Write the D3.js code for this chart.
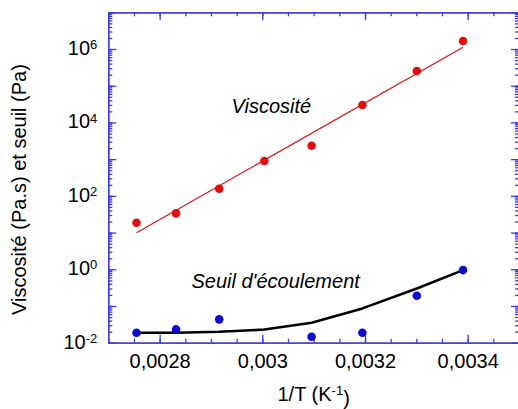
<!DOCTYPE html>
<html>
<head>
<meta charset="utf-8">
<script src="https://cdn.jsdelivr.net/npm/d3@7"></script>
<style>
  body { margin: 0; background: #fff; }
  svg { display: block; font-family: "Liberation Sans", Arial, sans-serif; }
</style>
</head>
<body>
<svg width="518" height="409"></svg>
<script>
// 1/T values (K^-1)
const invT = [0.002755, 0.002832, 0.002916, 0.003004, 0.003096, 0.003195, 0.003301, 0.003391];
// viscosity (Pa.s), red points
const viscosite = [18.5, 33.4, 156, 887, 2320, 29800, 252000, 1650000];
// linear fit in log space (two ends)
const viscositeFitX = [0.002755, 0.003391];
const viscositeFit = [9.9, 1110000];
// yield stress (Pa), blue points (none measured at 0.0030)
const seuil = [0.0186, 0.0230, 0.0432, null, 0.0145, 0.0186, 0.190, 0.951];
// smoothed curve through yield stress
const seuilFit = [0.0186, 0.0186, 0.0198, 0.0228, 0.0348, 0.086, 0.30, 0.95];

const xMajorTicks = [0.0028, 0.003, 0.0032, 0.0034];
const yMajorTicks = [1e-2, 1e-1, 1, 1e1, 1e2, 1e3, 1e4, 1e5, 1e6, 1e7];
const yLabelTicks = [1e-2, 1, 1e2, 1e4, 1e6];

const axisColor = "#3b3be2";
const svg = d3.select("svg");

const mLeft = 108.3, mRight = 519, mTop = 12.3, mBottom = 342.7;

const x = d3.scaleLinear().domain([0.0027, 0.0035]).range([mLeft, mRight]);
const y = d3.scaleLog().domain([1e-2, 1e7]).range([mBottom, mTop]);

const fmtX = (d) => d3.format("~g")(d).replace(".", ",");

function styleAxis(g) {
  g.selectAll("path, line").attr("stroke", axisColor).attr("stroke-width", 1.3);
  g.selectAll("text").attr("fill", "#000").style("font-size", "20px")
    .style("font-family", '"Liberation Sans", Arial, sans-serif');
}

// minor ticks
const xMinor = x.ticks(16);
const yMinor = y.ticks();

// bottom
svg.append("g").attr("transform", `translate(0,${mBottom})`)
  .call(d3.axisBottom(x).tickValues(xMinor).tickSize(-4).tickSizeOuter(0).tickFormat(""))
  .call(styleAxis);
svg.append("g").attr("transform", `translate(0,${mBottom})`)
  .call(d3.axisBottom(x).tickValues(xMajorTicks).tickSize(-8).tickSizeOuter(0)
    .tickPadding(11).tickFormat(fmtX))
  .call(styleAxis);

// top
svg.append("g").attr("transform", `translate(0,${mTop})`)
  .call(d3.axisTop(x).tickValues(xMinor).tickSize(-4).tickSizeOuter(0).tickFormat(""))
  .call(styleAxis);
svg.append("g").attr("transform", `translate(0,${mTop})`)
  .call(d3.axisTop(x).tickValues(xMajorTicks).tickSize(-8).tickSizeOuter(0).tickFormat(""))
  .call(styleAxis);

// left
svg.append("g").attr("transform", `translate(${mLeft},0)`)
  .call(d3.axisLeft(y).tickValues(yMinor).tickSize(-4).tickSizeOuter(0).tickFormat(""))
  .call(styleAxis);
svg.append("g").attr("transform", `translate(${mLeft},0)`)
  .call(d3.axisLeft(y).tickValues(yMajorTicks).tickSize(-8).tickSizeOuter(0).tickFormat(""))
  .call(styleAxis);

// right
svg.append("g").attr("transform", `translate(${mRight},0)`)
  .call(d3.axisRight(y).tickValues(yMinor).tickSize(-4).tickSizeOuter(0).tickFormat(""))
  .call(styleAxis);
svg.append("g").attr("transform", `translate(${mRight},0)`)
  .call(d3.axisRight(y).tickValues(yMajorTicks).tickSize(-8).tickSizeOuter(0).tickFormat(""))
  .call(styleAxis);

// y tick labels 10^n
const yLab = svg.append("g").selectAll("text").data(yLabelTicks).enter().append("text")
  .attr("x", mLeft - 11)
  .attr("y", (d) => y(d))
  .attr("dy", "0.3em")
  .attr("text-anchor", "end")
  .style("font-size", "20px");
yLab.append("tspan").text("10");
yLab.append("tspan").attr("dy", "-0.45em").style("font-size", "13px")
  .text((d) => Math.round(Math.log10(d)));

// red fit line
svg.append("path")
  .datum(viscositeFitX.map((v, i) => [v, viscositeFit[i]]))
  .attr("fill", "none").attr("stroke", "#e01010").attr("stroke-width", 1.2)
  .attr("d", d3.line().x((d) => x(d[0])).y((d) => y(d[1])));

// black fit curve
svg.append("path")
  .datum(invT.map((v, i) => [v, seuilFit[i]]))
  .attr("fill", "none").attr("stroke", "#000").attr("stroke-width", 2.6)
  .attr("stroke-linejoin", "round")
  .attr("d", d3.line().x((d) => x(d[0])).y((d) => y(d[1])));

// points
svg.append("g").selectAll("circle")
  .data(invT.map((v, i) => [v, viscosite[i]]))
  .enter().append("circle")
  .attr("cx", (d) => x(d[0])).attr("cy", (d) => y(d[1])).attr("r", 4.3)
  .attr("fill", "#e00e0e");

svg.append("g").selectAll("circle")
  .data(invT.map((v, i) => [v, seuil[i]]).filter((d) => d[1] != null))
  .enter().append("circle")
  .attr("cx", (d) => x(d[0])).attr("cy", (d) => y(d[1])).attr("r", 4.3)
  .attr("fill", "#0a0ad0");

// annotations
svg.append("text").attr("x", x(0.00294)).attr("y", y(17700))
  .style("font-size", "20px").style("font-style", "italic").text("Viscosité");
svg.append("text").attr("x", x(0.002862)).attr("y", y(0.30))
  .style("font-size", "20px").style("font-style", "italic").text("Seuil d'écoulement");

// axis titles
const xt = svg.append("text").attr("x", (mLeft + mRight) / 2).attr("y", 401)
  .attr("text-anchor", "middle").style("font-size", "20px");
xt.append("tspan").text("1/T (K");
xt.append("tspan").attr("dy", "-0.5em").style("font-size", "13px").text("-1");
xt.append("tspan").attr("dy", "0.5em").text(")");

svg.append("text")
  .attr("transform", `translate(26,${(mTop + mBottom) / 2 + 12}) rotate(-90)`)
  .attr("text-anchor", "middle").style("font-size", "20px")
  .text("Viscosité (Pa.s) et seuil (Pa)");
</script>
</body>
</html>
